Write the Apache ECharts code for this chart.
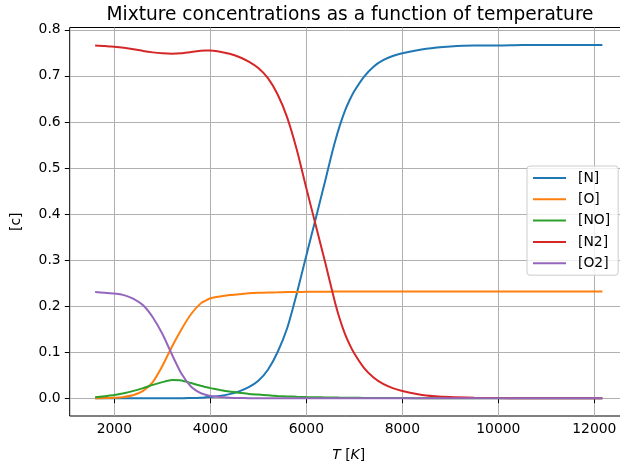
<!DOCTYPE html>
<html>
<head>
<meta charset="utf-8">
<script src="https://cdn.jsdelivr.net/npm/echarts@6/dist/echarts.min.js"></script>
<style>html,body{margin:0;padding:0;background:#fff;overflow:hidden}#c{width:620px;height:467px}</style>
</head>
<body>
<div id="c"></div>
<script>
const T   = [1600,1800,2000,2200,2400,2600,2800,3000,3200,3400,3600,3800,3900,4000,4200,4400,4600,4800,5000,5200,5400,5600,5800,6000,6200,6400,6500,6600,6700,6800,6900,7000,7200,7400,7600,7800,8000,8500,9000,9500,10000,10500,11000,11500,12000,12167];
const cN  = [0,0,0,0,0,0,0,0,0,0,0.0005,0.001,0.002,0.003,0.005,0.009,0.015,0.024,0.038,0.062,0.1,0.152,0.227,0.31,0.392,0.475,0.518,0.558,0.593,0.623,0.647,0.667,0.698,0.72,0.734,0.743,0.749,0.759,0.764,0.766,0.766,0.767,0.767,0.767,0.767,0.767];
const cO  = [0,0.0005,0.001,0.003,0.007,0.016,0.035,0.07,0.112,0.15,0.183,0.206,0.212,0.217,0.221,0.224,0.226,0.228,0.229,0.2295,0.23,0.2305,0.2307,0.231,0.2312,0.2314,0.2315,0.2316,0.2317,0.2318,0.2319,0.232,0.232,0.232,0.232,0.232,0.232,0.232,0.232,0.232,0.232,0.232,0.232,0.232,0.232,0.232];
const cNO = [0.002,0.0045,0.007,0.011,0.016,0.022,0.029,0.035,0.0395,0.0385,0.033,0.027,0.0245,0.022,0.018,0.0145,0.012,0.0095,0.008,0.0065,0.005,0.004,0.0033,0.0027,0.0022,0.0018,0.0016,0.0015,0.0013,0.0012,0.0011,0.001,0.0008,0.0007,0.0006,0.0005,0.0004,0.0002,0.0001,0,0,0,0,0,0,0];
const cN2 = [0.766,0.765,0.763,0.761,0.758,0.754,0.751,0.749,0.748,0.749,0.752,0.7545,0.755,0.7548,0.7525,0.748,0.741,0.731,0.717,0.695,0.66,0.61,0.54,0.456,0.374,0.292,0.249,0.207,0.171,0.141,0.117,0.097,0.066,0.045,0.031,0.022,0.016,0.006,0.0025,0.001,0.0004,0.0002,0,0,0,0];
const cO2 = [0.2305,0.229,0.2275,0.224,0.216,0.202,0.176,0.14,0.095,0.053,0.025,0.011,0.0075,0.005,0.0025,0.0012,0.0006,0.0003,0.0002,0.0001,0,0,0,0,0,0,0,0,0,0,0,0,0,0,0,0,0,0,0,0,0,0,0,0,0,0];
const names = ['[N]','[O]','[NO]','[N2]','[O2]'];
const colors = ['#1f77b4','#ff7f0e','#2ca02c','#d62728','#9467bd'];
const xTicks = [2000,4000,6000,8000,10000,12000];
const yTicks = [0,0.1,0.2,0.3,0.4,0.5,0.6,0.7,0.8];

const FONT = 'DejaVu Sans';
const chart = echarts.init(document.getElementById('c'), null, {renderer:'canvas'});
const allData = [cN,cO,cNO,cN2,cO2];
const series = names.map((n,i)=>({
  name:n, type:'line', symbol:'none', smooth:0.2,
  data: T.map((t,k)=>[t, allData[i][k]]),
  lineStyle:{color:colors[i], width:2}, itemStyle:{color:colors[i]},
  emphasis:{disabled:true}, animation:false
}));
chart.setOption({
  animation:false,
  backgroundColor:'#fff',
  title:{text:'Mixture concentrations as a function of temperature', left:345, textAlign:'center', top:1,
    textStyle:{fontFamily:FONT, fontSize:18.6, fontWeight:'normal', color:'#000'}},
  grid:{left:69.7, right:-7.7, top:27.5, bottom:51, outerBoundsMode:'none', containLabel:false,
    show:true, borderColor:'#000', borderWidth:1, backgroundColor:'transparent'},
  legend:{orient:'vertical', left:527, top:166, padding:[5,8,5,5], itemWidth:33, itemHeight:14, itemGap:7.3,
    backgroundColor:'rgba(255,255,255,0.8)', borderColor:'#cccccc', borderWidth:1, borderRadius:3,
    itemStyle:{opacity:0},
    textStyle:{fontFamily:FONT, fontSize:13.9, color:'#000', padding:[0,0,0,7]}, data:names},
  xAxis:{type:'value', min:1070, max:12695,
    name:'{i|T} [{i|K}]', nameLocation:'middle', nameGap:32,
    nameTextStyle:{fontFamily:FONT, fontSize:13.9, color:'#000', rich:{i:{fontFamily:FONT, fontSize:13.9, fontStyle:'italic', color:'#000'}}},
    axisLine:{show:false},
    axisTick:{show:true, length:4.9, lineStyle:{color:'#000', width:1}, customValues:xTicks},
    axisLabel:{fontFamily:FONT, fontSize:13.9, color:'#000', margin:6, customValues:xTicks, formatter:v=>String(v), hideOverlap:false},
    splitLine:{show:true, lineStyle:{color:'#b0b0b0', width:1}}},
  yAxis:{type:'value', min:-0.0385, max:0.805,
    name:'[c]', nameLocation:'middle', nameGap:46, nameRotate:90,
    nameTextStyle:{fontFamily:FONT, fontSize:13.9, color:'#000'},
    axisLine:{show:false},
    axisTick:{show:true, length:4.9, lineStyle:{color:'#000', width:1}, customValues:yTicks},
    axisLabel:{fontFamily:FONT, fontSize:13.9, color:'#000', margin:9, customValues:yTicks, formatter:v=>v.toFixed(1)},
    splitLine:{show:true, lineStyle:{color:'#b0b0b0', width:1}}},
  series: series
});
</script>
</body>
</html>
